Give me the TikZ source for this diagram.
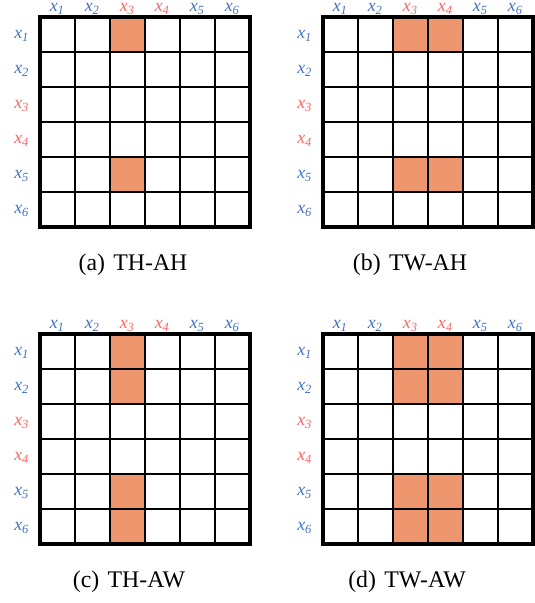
\documentclass[tikz,border=0pt]{standalone}
\usepackage{fontspec}
\setmainfont{Liberation Serif}
\definecolor{hl}{HTML}{EE976E}
\definecolor{lblue}{HTML}{4472C4}
\definecolor{lred}{HTML}{FF6464}
\begin{document}
\begin{tikzpicture}[x=0.42pt,y=-0.42pt,
	gridline/.style={line width=0.85pt},
	border/.style={line width=1.3pt},
	lab/.style={font=\fontsize{7.5}{8}\selectfont\itshape,inner sep=0pt},
	captext/.style={font=\fontsize{10}{12}\selectfont,inner sep=0pt}]
	\useasboundingbox (0,0) rectangle (534,603);
	% panels: origin / filled rows / filled columns / name / caption
	\foreach \ox/\oy/\rows/\cols/\p/\captxt/\cx in {40/17/{1,5}/{3}/a/{(a)\hspace{0.35em}TH-AH}/133,
			323/17/{1,5}/{3,4}/b/{(b)\hspace{0.35em}TW-AH}/410,
			40/334/{1,2,5,6}/{3}/c/{(c)\hspace{0.35em}TH-AW}/129,
			323/334/{1,2,5,6}/{3,4}/d/{(d)\hspace{0.35em}TW-AW}/407}{
		\begin{scope}[shift={(\ox,\oy)}]
			\path (0,0) coordinate (\p-nw);
			\path (210,210) coordinate (\p-se);
			\foreach \r in \rows
				\foreach \c in \cols
					\fill[hl] ({(\c-1)*35},{(\r-1)*35}) rectangle ++(35,35);
			\foreach \i in {1,...,5}{
				\draw[gridline] ({\i*35},0) -- ({\i*35},210);
				\draw[gridline] (0,{\i*35}) -- (210,{\i*35});
			}
			\draw[border] (\p-nw) rectangle (\p-se);
			\foreach \i in {1,...,6}{
				\ifnum\i=3 \def\lc{lred}\else\ifnum\i=4 \def\lc{lred}\else\def\lc{lblue}\fi\fi
				\node[lab,text=\lc] (\p-top\i) at ({(\i-1)*35+17.5},-8) {x\textsubscript{\i}};
				\node[lab,text=\lc] (\p-left\i) at (-18,{(\i-1)*35+19}) {x\textsubscript{\i}};
			}
		\end{scope}
		\node[captext] (\p-cap) at (\cx,{\oy+248}) {\captxt};
	}
\end{tikzpicture}
\end{document}
